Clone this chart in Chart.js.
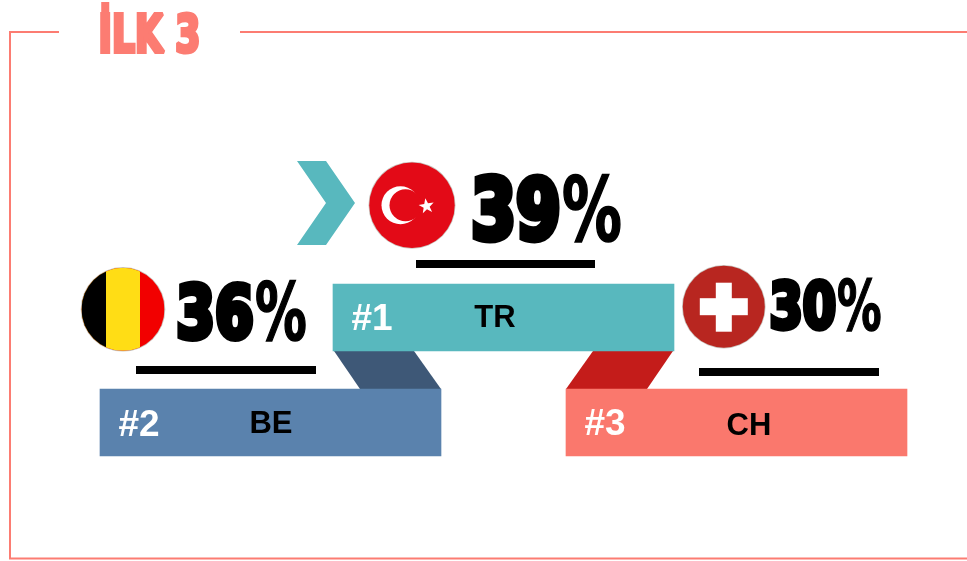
<!DOCTYPE html>
<html>
<head>
<meta charset="utf-8">
<title>İLK 3</title>
<script src="https://cdn.jsdelivr.net/npm/chart.js@4/dist/chart.umd.min.js"></script>
<style>
  html, body { margin: 0; padding: 0; background: #fff; }
  canvas { display: block; }
</style>
</head>
<body>
<canvas id="chart" width="967" height="561"></canvas>
<script>
// data, left to right on the podium
const heading = 'İLK 3'
const countries = ['BE', 'TR', 'CH']
const shares = [36, 39, 30]
const ranks = [2, 1, 3]

const barColors = ['#5A82AD', '#58B8BE', '#FA786D']
const ribbonColors = ['#3E5877', null, '#C41C1A']
const frameColor = '#FC7C72'

// rank 1 stands one level above the others
const levels = ranks.map(rank => rank === 1 ? 1 : 2)

// where the decoration sits around each bar
const decor = [
  { flag: [123, 309.3, 41.5], pct: [177, 341, 129, 61], rule: [136, 366, 180, 8], nameX: 271, nameY: 433, tagY: 436 },
  { flag: [412, 205.2, 42.7], pct: [472, 242, 149, 69], rule: [416, 260, 179, 8], nameX: 495, nameY: 327, tagY: 330 },
  { flag: [723.8, 306.7, 41], pct: [770, 331, 111, 53], rule: [699, 368, 180, 8], nameX: 749, nameY: 435, tagY: 435 }
]

const heavyFont = "'Liberation Sans Narrow', 'DejaVu Sans Condensed', 'Liberation Sans'"

// squeezes a text into a box, fat is the extra stroke that makes it look like a heavy poster face
function fitText(ctx, text, left, baseline, width, height, fat, family) {
  ctx.save()
  ctx.font = 'bold ' + ((height - fat) / 0.75) + 'px ' + family
  ctx.textAlign = 'left'
  ctx.textBaseline = 'alphabetic'
  const w = ctx.measureText(text).width
  const sx = width / (w + fat)
  ctx.translate(left + fat * sx / 2, baseline - fat / 2)
  ctx.scale(sx, 1)
  ctx.fillText(text, 0, 0)
  if (fat > 0) {
    ctx.lineWidth = fat
    ctx.lineJoin = 'miter'
    ctx.miterLimit = 2
    ctx.strokeText(text, 0, 0)
  }
  ctx.restore()
}

function circlePath(ctx, x, y, r) {
  ctx.beginPath()
  ctx.arc(x, y, r, 0, Math.PI * 2)
}

function drawBelgium(ctx, x, y, r) {
  ctx.save()
  circlePath(ctx, x, y, r)
  ctx.clip()
  ctx.fillStyle = '#F20000'
  ctx.fillRect(x - r, y - r, r * 2, r * 2)
  ctx.fillStyle = '#FFDD15'
  ctx.fillRect(x - r, y - r, 58.5, r * 2)
  ctx.fillStyle = '#000'
  ctx.fillRect(x - r, y - r, 24.5, r * 2)
  ctx.restore()
}

function drawTurkey(ctx, x, y, r) {
  ctx.fillStyle = '#E30A17'
  circlePath(ctx, x, y, r)
  ctx.fill()
  ctx.fillStyle = '#fff'
  circlePath(ctx, x - 11.5, y, 19)
  ctx.fill()
  ctx.fillStyle = '#E30A17'
  circlePath(ctx, x - 6.5, y, 16)
  ctx.fill()
  // star
  ctx.fillStyle = '#fff'
  ctx.beginPath()
  for (let i = 0; i < 10; i++) {
    const a = -Math.PI / 2 + i * Math.PI / 5 - 0.15
    const d = i % 2 === 0 ? 8 : 3.2
    ctx.lineTo(x + 14.5 + Math.cos(a) * d, y + 1 + Math.sin(a) * d)
  }
  ctx.closePath()
  ctx.fill()
}

function drawSwiss(ctx, x, y, r) {
  ctx.fillStyle = '#B82620'
  circlePath(ctx, x, y, r)
  ctx.fill()
  ctx.fillStyle = '#fff'
  ctx.fillRect(x - 24, y - 8.5, 48, 17)
  ctx.fillRect(x - 8, y - 24, 16, 49)
}

const flagPainters = [drawBelgium, drawTurkey, drawSwiss]

// floating bars on a reversed axis: y and base can be either edge
const barTop = bar => Math.min(bar.y, bar.base)
const barBottom = bar => Math.max(bar.y, bar.base)

// everything around the bars: frame, heading, ribbons, flags, labels
const podiumPlugin = {
  id: 'podium',
  beforeDatasetsDraw(chart) {
    const ctx = chart.ctx
    const bars = chart.getDatasetMeta(0).data
    const from = barBottom(bars[1])

    // ribbons from the first bar down to its neighbours
    ctx.fillStyle = ribbonColors[0]
    ctx.beginPath()
    ctx.moveTo(334, from)
    ctx.lineTo(414, from)
    ctx.lineTo(bars[0].x + bars[0].width / 2, barTop(bars[0]))
    ctx.lineTo(360, barTop(bars[0]))
    ctx.closePath()
    ctx.fill()
    ctx.fillStyle = ribbonColors[2]
    ctx.beginPath()
    ctx.moveTo(593, from)
    ctx.lineTo(673, from)
    ctx.lineTo(647, barTop(bars[2]))
    ctx.lineTo(bars[2].x - bars[2].width / 2, barTop(bars[2]))
    ctx.closePath()
    ctx.fill()
  },
  afterDatasetsDraw(chart) {
    const ctx = chart.ctx
    const bars = chart.getDatasetMeta(0).data

    // frame, open behind the heading and on the right
    ctx.strokeStyle = frameColor
    ctx.lineWidth = 2
    ctx.beginPath()
    ctx.moveTo(59, 32)
    ctx.lineTo(10, 32)
    ctx.lineTo(10, 558.5)
    ctx.lineTo(967, 558.5)
    ctx.moveTo(240, 32)
    ctx.lineTo(967, 32)
    ctx.stroke()

    ctx.fillStyle = frameColor
    ctx.strokeStyle = frameColor
    fitText(ctx, heading, 97, 54, 105, 42, 4, heavyFont)

    // chevron in front of the winner
    ctx.fillStyle = barColors[1]
    ctx.beginPath()
    ctx.moveTo(297, 161)
    ctx.lineTo(326, 161)
    ctx.lineTo(355, 203)
    ctx.lineTo(326, 245)
    ctx.lineTo(297, 245)
    ctx.lineTo(326, 203)
    ctx.closePath()
    ctx.fill()

    countries.forEach((name, i) => {
      const d = decor[i]
      const [fx, fy, fr] = d.flag
      // thin grey edge around the round flag
      ctx.fillStyle = '#C9C4BE'
      circlePath(ctx, fx, fy, fr + 0.8)
      ctx.fill()
      flagPainters[i](ctx, fx, fy, fr)

      const [px, py, pw, ph] = d.pct
      ctx.fillStyle = '#000'
      ctx.strokeStyle = '#000'
      fitText(ctx, String(shares[i]), px - pw * 0.025, py, pw * 0.64, ph, ph / 10, heavyFont)
      fitText(ctx, '%', px + pw * 0.6, py, pw * 0.41, ph, ph / 40, heavyFont)

      const [rx, ry, rw, rh] = d.rule
      ctx.fillRect(rx, ry, rw, rh)

      // rank tag and country code on the bar
      ctx.textBaseline = 'alphabetic'
      ctx.textAlign = 'left'
      ctx.font = "bold 37px 'Liberation Sans'"
      ctx.fillStyle = '#fff'
      ctx.fillText('#' + ranks[i], bars[i].x - bars[i].width / 2 + 18.5, d.tagY)
      ctx.textAlign = 'center'
      ctx.font = "bold 31px 'Liberation Sans'"
      ctx.fillStyle = '#000'
      ctx.fillText(name, d.nameX, d.nameY)
    })
  }
}

// one level is 105 px on the canvas, level 1 is centred at 317.5 px
const levelPx = 105
const yMin = 1 - 317.5 / levelPx
const yMax = 1 + (561 - 317.5) / levelPx
const halfBar = 33.5 / levelPx

new Chart(document.getElementById('chart'), {
  type: 'bar',
  data: {
    labels: countries,
    datasets: [{
      label: 'Pay',
      data: levels.map(level => [level - halfBar, level + halfBar]),
      backgroundColor: barColors,
      borderWidth: 0,
      barThickness: 341,
      clip: false
    }]
  },
  options: {
    responsive: false,
    animation: false,
    layout: { padding: { left: 154, right: 114, top: 0, bottom: 0 } },
    plugins: {
      legend: { display: false },
      title: { display: false },
      tooltip: { enabled: false }
    },
    scales: {
      x: { display: false },
      y: { display: false, reverse: true, min: yMin, max: yMax }
    }
  },
  plugins: [podiumPlugin]
})
</script>
</body>
</html>
